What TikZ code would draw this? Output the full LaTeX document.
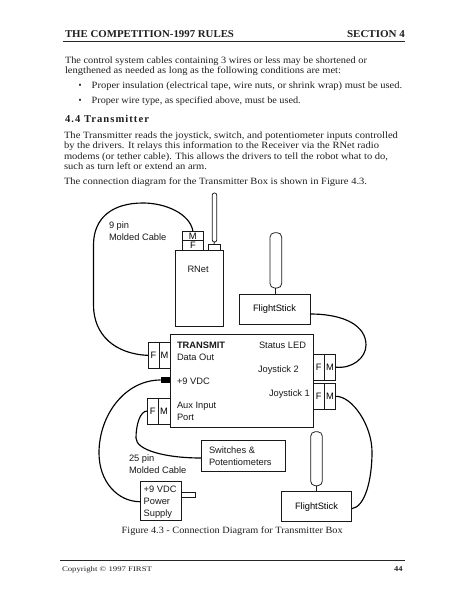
\documentclass[tikz,border=0pt]{standalone}
\usepackage{fontspec}
\usepackage{graphicx}
\setmainfont{Liberation Serif}
\newfontfamily\dgm{Liberation Sans}
\newcommand{\tline}[5][9.6pt]{\node[textline] (#2) at (#3) {\resizebox{#4pt}{\height}{\fontsize{#1}{#1}\selectfont #5}};}
\tikzset{
  textline/.style={anchor=base west,inner sep=0pt,outer sep=0pt,text=black!88},
  pad/.style={draw=black!90,line width=.75pt,inner sep=0pt,outer sep=0pt,font=\dgm\fontsize{9.3}{9.3}\selectfont,align=center},
  label/.style={anchor=base west,inner sep=0pt,outer sep=0pt,font=\dgm\fontsize{9.3}{12}\selectfont,align=left,text=black!90},
  cable/.style={draw=black,line width=1.15pt},
  thin wire/.style={draw=black!90,line width=.8pt},
  stick/.style={draw=black!90,line width=.75pt,rounded corners=4.5pt,inner sep=0pt,outer sep=0pt},
  pagerule/.style={draw=black!85,line width=.8pt}
}
\begin{document}
\begin{tikzpicture}[x=1pt,y=-1pt]
\useasboundingbox[fill=white] (0,0) rectangle (463,599);
% page header
\tline[10.5pt]{hL}{65,37.5}{169}{\textbf{THE COMPETITION-1997 RULES}}
\tline[10.5pt]{hR}{347,37.5}{58}{\textbf{SECTION 4}}
\coordinate (rA) at (63,41.5); \coordinate (rB) at (405,41.5);
\draw[pagerule] (rA) -- (rB);
% body text
\tline{p1}{65,63.3}{302}{The control system cables containing 3 wires or less may be shortened or}
\tline{p2}{65,73.5}{276}{lengthened as needed as long as the following conditions are met:}
\tline{b1}{78.5,88.3}{3}{•}
\tline{t1}{91.7,88.3}{310.5}{Proper insulation (electrical tape, wire nuts, or shrink wrap) must be used.}
\tline{b2}{78.5,104}{3}{•}
\tline{t2}{91.7,104}{209}{Proper wire type, as specified above, must be used.}
\tline[10.5pt]{sec}{65,123}{85}{\textbf{\addfontfeature{LetterSpace=10}4.4 Transmitter}}
\tline{q1}{64,138.5}{334}{The Transmitter reads the joystick, switch, and potentiometer inputs controlled}
\tline{q2}{64,148.5}{315}{by the drivers.  It relays this information to the Receiver via the RNet radio}
\tline{q3}{64,159.3}{324}{modems (or tether cable).  This allows the drivers to tell the robot what to do,}
\tline{q4}{64,169}{143}{such as turn left or extend an arm.}
\tline{q5}{64,184.5}{303}{The connection diagram for the Transmitter Box is shown in Figure 4.3.}
% RNet
\node[stick,minimum width=4.4pt,minimum height=49pt,rounded corners=2pt] (ant) at (214.5,217.5) {};
\node[pad,minimum width=12pt,minimum height=6.7pt] (antb) at (214,247.35) {};
\draw[thin wire] (ant.south) -- (antb.north);
\node[pad,minimum width=47.3pt,minimum height=75.3pt] (rnet) at (199.35,288.35) {};
\node[label] (rnetl) at (187.5,272.5) {RNet};
\node[pad,minimum width=20.3pt,minimum height=9.7pt] (m9) at (192.85,235.85) {M};
\node[pad,minimum width=20.3pt,minimum height=10pt] (f9) at (192.85,245.7) {F};
% Transmit box
\node[pad,minimum width=143pt,minimum height=92.3pt] (tx) at (241.5,380.85) {};
\node[label,font=\dgm\bfseries\fontsize{9.3}{12}\selectfont] (txl) at (177,348.3) {TRANSMIT};
\node[label] (dout) at (177,360.3) {Data Out};
\node[label] (vdc) at (177,384.3) {+9 VDC};
\node[label] (aux) at (177,420.3) {Aux Input\\Port};
\node[label] (led) at (259,348.3) {Status LED};
\node[label] (j2) at (258,372.3) {Joystick 2};
\node[label] (j1) at (269,396.3) {Joystick 1};
% Connectors on the box
\node[pad,minimum width=11pt,minimum height=25.3pt] (dof) at (153.5,355.35) {F};
\node[pad,minimum width=11pt,minimum height=25.3pt] (dom) at (164.5,355.35) {M};
\node[pad,minimum width=11pt,minimum height=26pt] (axf) at (152.7,411) {F};
\node[pad,minimum width=12pt,minimum height=26pt] (axm) at (164,411) {M};
\node[pad,minimum width=11.3pt,minimum height=25.7pt] (j2f) at (318.65,367.15) {F};
\node[pad,minimum width=11.4pt,minimum height=25.7pt] (j2m) at (330,367.15) {M};
\node[pad,minimum width=11.3pt,minimum height=26pt] (j1f) at (318.65,396.3) {F};
\node[pad,minimum width=11.4pt,minimum height=26pt] (j1m) at (330,396.3) {M};
\node[fill=black,minimum width=9.3pt,minimum height=6pt,inner sep=0pt,outer sep=0pt] (jack) at (165.35,380) {};
% FlightStick top
\node[stick,minimum width=11.7pt,minimum height=55.3pt] (st1) at (275.85,260.35) {};
\node[pad,minimum width=71pt,minimum height=30pt] (fs1) at (274.5,309) {FlightStick};
\draw[thin wire] (st1.south) -- (fs1.north -| st1.south);
% FlightStick bottom
\node[stick,minimum width=11.6pt,minimum height=54pt] (st2) at (316.5,458.7) {};
\node[pad,minimum width=70.4pt,minimum height=30pt] (fs2) at (316.5,506.7) {FlightStick};
\draw[thin wire] (st2.south) -- (fs2.north);
% Switches
\node[pad,minimum width=84.7pt,minimum height=31pt] (sw) at (243.35,455.5) {};
\node[label] (swl) at (209,465) {Switches \&\\Potentiometers};
% 25 pin and 9 pin labels
\node[label] (p9) at (109,240.5) {9 pin\\Molded Cable};
\node[label] (p25) at (129,473) {25 pin\\Molded Cable};
% Power supply
\node[pad,minimum width=41pt,minimum height=38.3pt] (ps) at (160.5,500.85) {};
\node[label] (psl) at (143.7,516) {+9 VDC\\Power\\Supply};
\node[pad,minimum width=14.7pt,minimum height=5pt,anchor=west] (plug) at (ps.east |- 0,494.5) {};
% Cables
\draw[cable] (m9.north) .. controls (190,214) and (166,203) .. (143,203)
  .. controls (112,203) and (93.5,218) .. (93.5,245) -- (93.5,305)
  .. controls (93.5,335) and (115,354) .. (dof.west);
\draw[cable] (fs1.east |- 0,314) .. controls (345,314) and (366,326) .. (366,345)
  .. controls (366,358) and (352,369) .. (j2m.east);
\draw[cable] (j1m.east) .. controls (352,396) and (372,425) .. (372,452)
  .. controls (372,480) and (365,507) .. (fs2.east |- 0,508.7);
\draw[cable] (jack.west) .. controls (125,380) and (99,415) .. (99,453)
  .. controls (99,482) and (118,501.7) .. (ps.west |- 0,501.7);
\draw[cable] (axf.west) .. controls (140,411) and (136,425) .. (136,438)
  .. controls (136,450) and (165,458) .. (sw.west |- 0,458);
% Caption and footer
\tline{cap}{121.7,533.5}{221}{Figure 4.3 - Connection Diagram for Transmitter Box}
\coordinate (fA) at (60,560.7); \coordinate (fB) at (405,560.7);
\draw[pagerule] (fA) -- (fB);
\tline[7pt]{cpr}{62,571}{90}{Copyright © 1997 FIRST}
\tline[7.5pt]{pg}{394,571}{8.5}{\textbf{44}}
\end{tikzpicture}
\end{document}
